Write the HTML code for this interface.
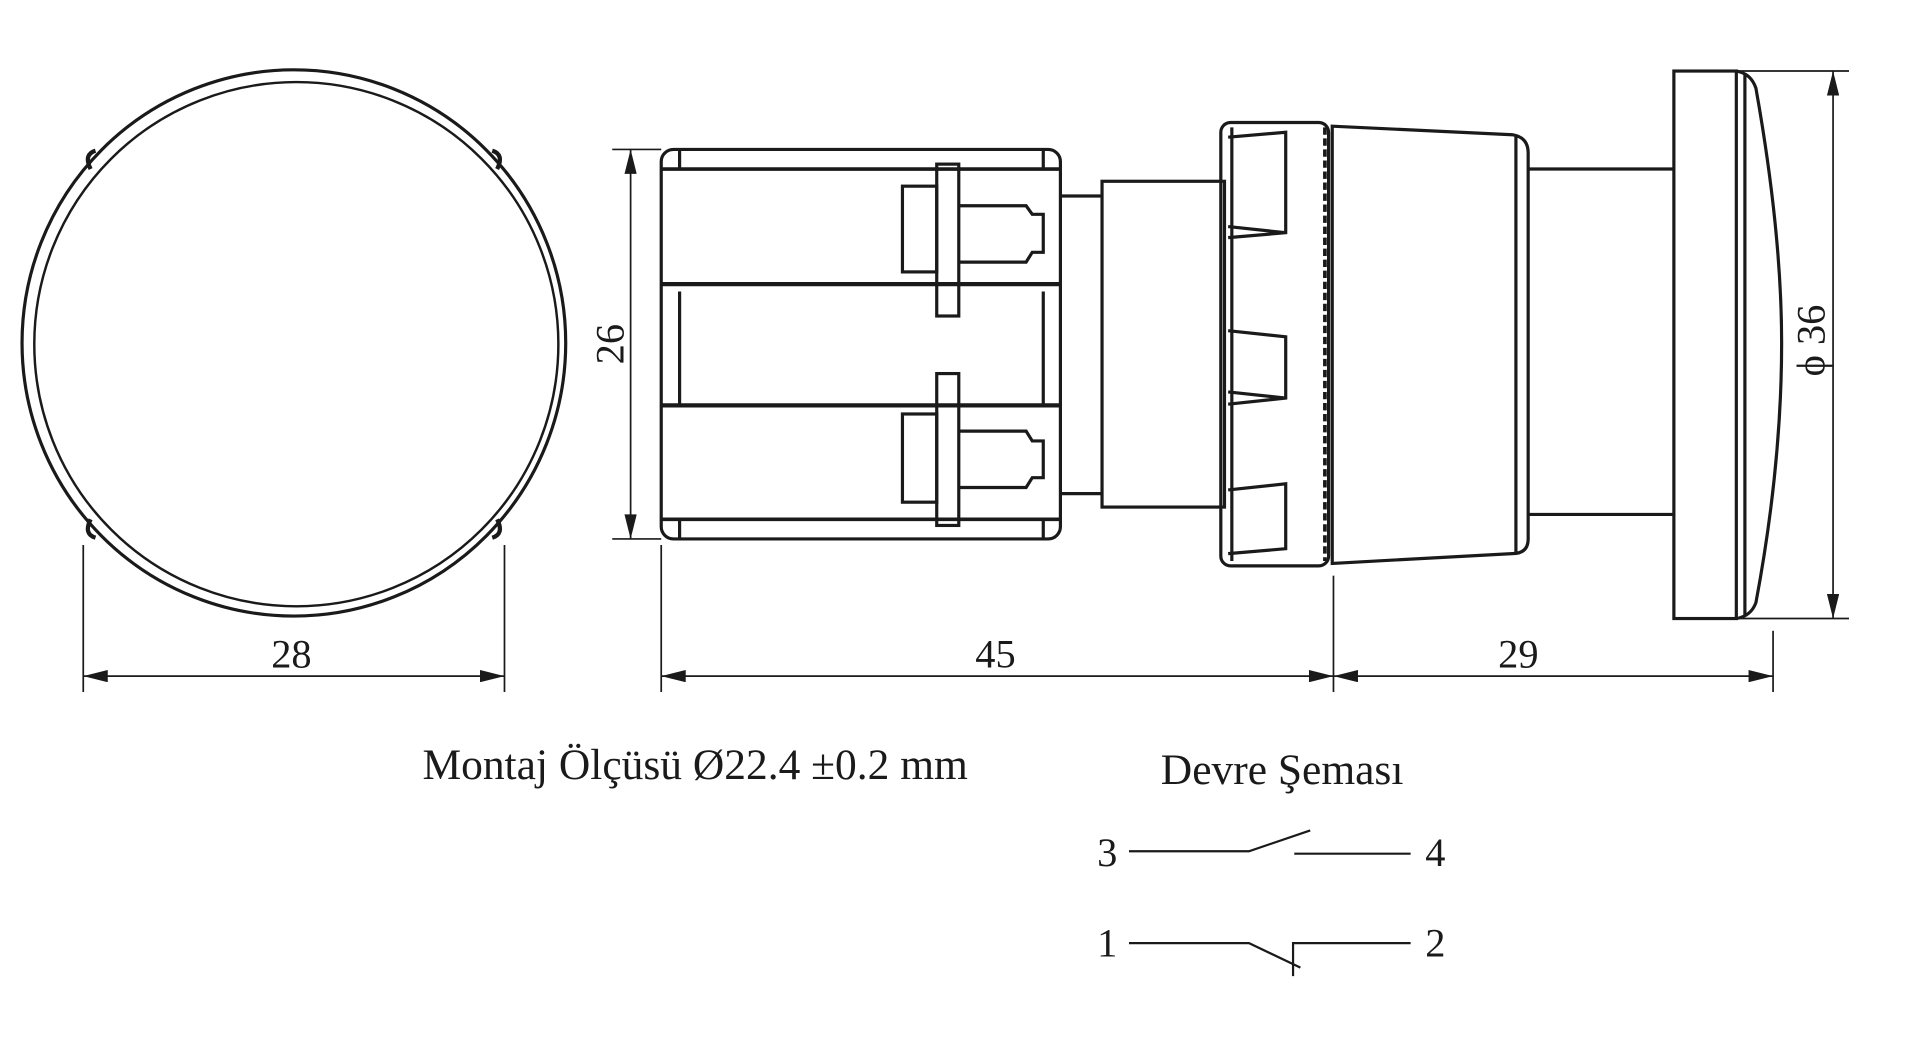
<!DOCTYPE html>
<html><head><meta charset="utf-8"><style>
html,body{margin:0;padding:0;background:#fff;width:1920px;height:1046px;overflow:hidden}
svg{display:block}
text{font-family:"Liberation Serif",serif;fill:#1a1a1a}
</style></head><body>
<svg width="1920" height="1046" viewBox="0 0 1568 854" preserveAspectRatio="none">
<defs>
<marker id="a" viewBox="0 0 20 10" refX="20" refY="5" markerWidth="22" markerHeight="10" markerUnits="userSpaceOnUse" orient="auto-start-reverse"><path d="M0,0 L20,5 L0,10 Z" fill="#1a1a1a"/></marker>
</defs>
<g fill="none" stroke="#1a1a1a" stroke-width="2.6">
<!-- front view -->
<ellipse cx="240" cy="280" rx="222" ry="223"/>
<ellipse cx="242" cy="281" rx="214" ry="214" stroke-width="2"/>
<path d="M74,138 q-6,-12 4,-15 M406,138 q6,-12 -4,-15 M74,424 q-6,12 4,15 M406,424 q6,12 -4,15" stroke-width="3.5"/>
<g stroke-width="1.4">
<line x1="68" y1="445" x2="68" y2="565"/><line x1="412" y1="445" x2="412" y2="565"/>
<line x1="68" y1="552" x2="412" y2="552" marker-start="url(#a)" marker-end="url(#a)"/>
<line x1="500" y1="122" x2="540" y2="122"/><line x1="500" y1="440" x2="540" y2="440"/>
<line x1="515" y1="122" x2="515" y2="440" marker-start="url(#a)" marker-end="url(#a)"/>
<line x1="540" y1="445" x2="540" y2="565"/><line x1="1089" y1="470" x2="1089" y2="565"/><line x1="1448" y1="515" x2="1448" y2="565"/>
<line x1="540" y1="552" x2="1089" y2="552" marker-start="url(#a)" marker-end="url(#a)"/>
<line x1="1089" y1="552" x2="1448" y2="552" marker-start="url(#a)" marker-end="url(#a)"/>
<line x1="1418" y1="58" x2="1510" y2="58"/><line x1="1418" y1="505" x2="1510" y2="505"/>
<line x1="1497" y1="58" x2="1497" y2="505" marker-start="url(#a)" marker-end="url(#a)"/>
</g>
<!-- rear body -->
<rect x="540" y="122" width="326" height="318" rx="10"/>
<line x1="540" y1="138" x2="866" y2="138" stroke-width="3"/><line x1="540" y1="424" x2="866" y2="424" stroke-width="3"/>
<line x1="540" y1="232" x2="866" y2="232" stroke-width="3.5"/><line x1="540" y1="331" x2="866" y2="331" stroke-width="3.5"/>
<line x1="555" y1="122" x2="555" y2="138"/><line x1="852" y1="122" x2="852" y2="138"/>
<line x1="555" y1="424" x2="555" y2="440"/><line x1="852" y1="424" x2="852" y2="440"/>
<line x1="555" y1="238" x2="555" y2="331"/><line x1="852" y1="238" x2="852" y2="331"/>
<rect x="737" y="152" width="28" height="70"/><rect x="765" y="134" width="18" height="124"/>
<path d="M783,168 H838 L843,175 H852 V206 H843 L838,214 H783"/>
<rect x="737" y="338" width="28" height="72"/><rect x="765" y="305" width="18" height="124"/>
<path d="M783,352 H838 L843,360 H852 V390 H843 L838,398 H783"/>
<path d="M866,160 H900 M866,403 H900"/>
<rect x="900" y="148" width="100" height="266"/>
<!-- nut -->
<rect x="997" y="100" width="88" height="362" rx="8"/>
<line x1="1006" y1="104" x2="1006" y2="458"/>
<path d="M1003,112 L1050,108 V190 L1003,194 M1003,185 L1050,190 M1003,270 L1050,275 V325 L1003,330 M1003,400 L1050,395 V448 L1003,452 M1003,320 L1050,325"/>
<line x1="1082" y1="104" x2="1082" y2="458" stroke-width="3" stroke-dasharray="6,3"/>
<!-- main body -->
<path d="M1088,103 L1235,110 Q1248,112 1248,125 V440 Q1248,452 1235,452 L1088,460 Z"/>
<line x1="1238" y1="110" x2="1238" y2="452"/>
<path d="M1248,138 H1367 M1248,420 H1367"/>
<!-- button -->
<rect x="1367" y="58" width="51" height="447"/>
<path d="M1418,58 Q1430,60 1434,72 Q1455,190 1455,280 Q1455,380 1434,492 Q1430,503 1418,505"/>
<line x1="1425" y1="60" x2="1425" y2="503"/>
<!-- schematic -->
<path d="M922,695 H1020 L1070,678 M1057,697 H1152" stroke-width="1.8"/>
<path d="M922,770 H1020 L1062,790 M1056,797 V770 H1152" stroke-width="1.8"/>
</g>
<g font-size="33">
<text x="238" y="545" text-anchor="middle">28</text>
<text x="813" y="545" text-anchor="middle">45</text>
<text x="1240" y="545" text-anchor="middle">29</text>
<text transform="translate(509,281) rotate(-90)" text-anchor="middle">26</text>
<text transform="translate(1490,278) rotate(-90)" text-anchor="middle">ϕ 36</text>
<text x="345" y="636" font-size="35.5">Montaj Ölçüsü Ø22.4 ±0.2 mm</text>
<text x="948" y="640" font-size="35.5">Devre Şeması</text>
<text x="896" y="707">3</text><text x="1164" y="707">4</text>
<text x="896" y="781">1</text><text x="1164" y="781">2</text>
</g>
</svg>
</body></html>
